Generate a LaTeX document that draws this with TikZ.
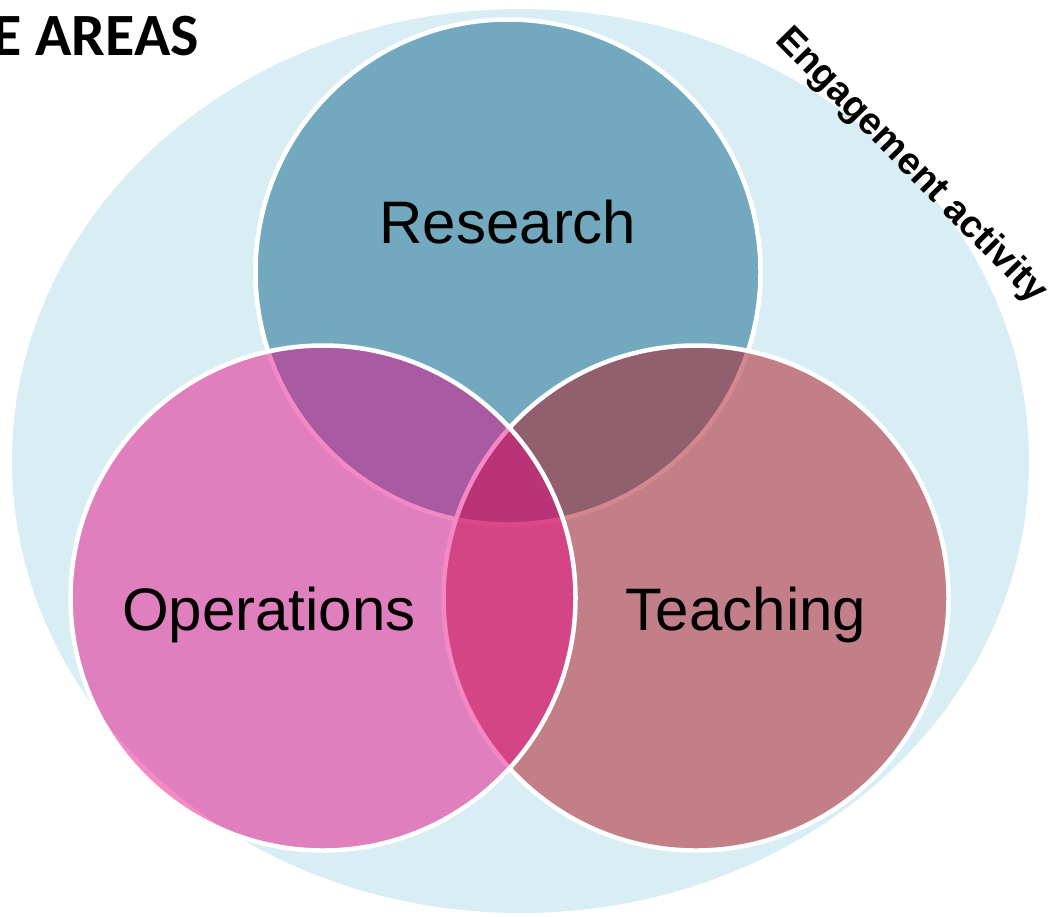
\documentclass[tikz,border=0pt]{standalone}
\usepackage{fontspec}
\setmainfont{Liberation Sans}
\newfontfamily\headfont{Carlito}
\usetikzlibrary{positioning}

\definecolor{engage}{RGB}{217,237,244}
\definecolor{researchblue}{RGB}{114,169,190}
\definecolor{teachred}{RGB}{174,28,37}
\definecolor{operpink}{RGB}{231,4,130}

\begin{document}
\begin{tikzpicture}[x=1pt,y=-1pt,
  area node/.style={circle,draw=white,line width=4.5pt,minimum size=505pt,inner sep=0pt},
  area text/.style={font=\fontsize{60}{72}\selectfont,anchor=base,inner sep=0pt}]

  \useasboundingbox (0,0) rectangle (1048,916);

  % engagement ring behind everything
  \fill[engage] (520.5,461) ellipse [x radius=508.5pt, y radius=452pt];

  % research at the bottom, operations on top
  \node[area node,fill=researchblue] (1) at (508,272) {};
  \node[area node,fill=teachred,fill opacity=0.52] (3) at (696,598) {};
  \node[area node,fill=operpink,fill opacity=0.47] (2) at (323,598) {};

  \node[area text] (1t) at ([yshift=29pt]1.center) {Research};
  \node[area text] (2t) at ([xshift=-54pt,yshift=-32pt]2.center) {Operations};
  \node[area text] (3t) at ([xshift=50pt,yshift=-32pt]3.center) {Teaching};

  \node[font=\headfont\bfseries\fontsize{60}{64}\selectfont,anchor=base east,inner sep=0pt] (head) at (199,55) {E AREAS};
  \node[font=\bfseries\fontsize{38}{44}\selectfont,rotate=-45.5] (ring) at (911,166) {Engagement activity};
\end{tikzpicture}
\end{document}
